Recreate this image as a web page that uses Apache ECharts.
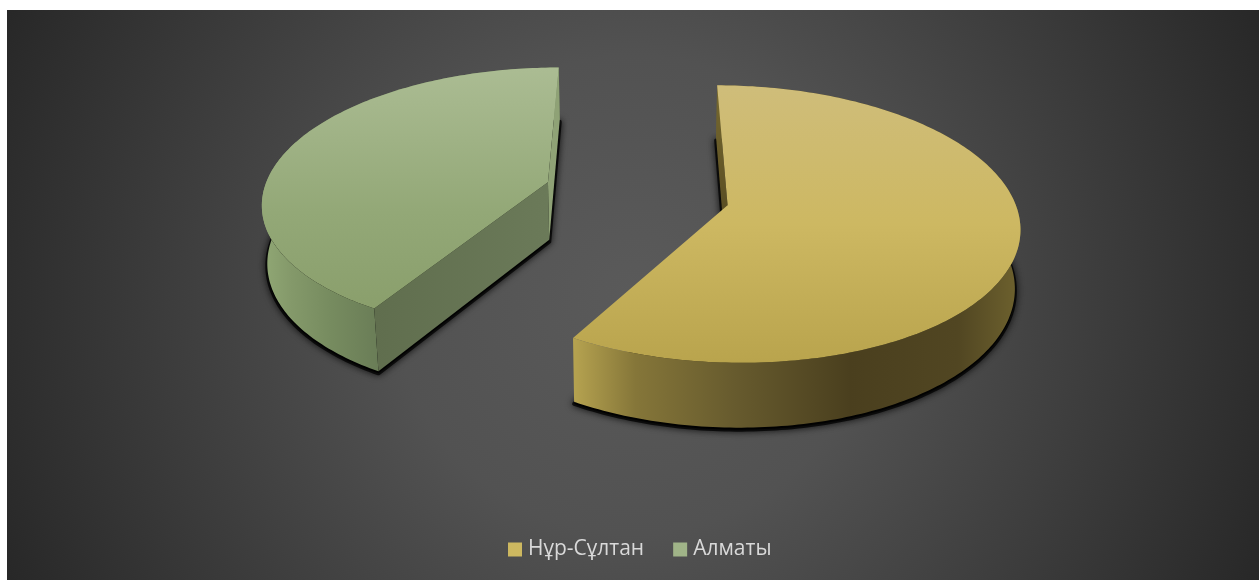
<!DOCTYPE html>
<html>
<head>
<meta charset="utf-8">
<style>
html,body{margin:0;padding:0;background:#fff;overflow:hidden}
#chart{position:absolute;left:7px;top:10px;width:1252px;height:570px}
</style>
<script src="https://cdn.jsdelivr.net/npm/echarts@6/dist/echarts.min.js"></script>
</head>
<body>
<div id="chart"></div>
<script>
// Two-slice exploded pie, drawn in true perspective.
const categories = ['Нұр-Сұлтан', 'Алматы'];
const sliceValues = [58.5, 41.5];

const swatchColors = ['#cdb860', '#a0b488'];
const topStops = [
  [[0, '#cfbd7a'], [0.5, '#cdb862'], [1, '#b9a44d']],
  [[0, '#abbc93'], [0.6, '#93a877'], [1, '#8a9f6c']]
];
const rimStops = [
  [[0, '#b6a350'], [0.14, '#857639'], [0.36, '#675b2e'], [0.62, '#4a3f1e'], [0.86, '#514622'], [0.985, '#6b5f2d'], [1, '#8c7e3c']],
  [[0, '#91a875'], [0.25, '#84996a'], [0.6, '#768b5f'], [1, '#6a7d57']]
];
const cutStops = [
  [[0, '#77692f'], [1, '#4e431f']],
  [[0, '#606e4e'], [1, '#6b7a59']]
];

// Camera: vanishing point, eye height and reference depth, in page pixels.
const cam = { vx: 640, vy: -798, height: 1004, depth: 2124, thick: 74, sink: 31, ox: 7, oy: 10 };
// Pie layout in ground-plane units.
const pie = { r: 288.5, cu: -3.3, cd: 2150.5, explode: 94.3 };

function project(u, d, low) {
  const s = cam.depth / (d + (low ? cam.sink : 0));
  return [
    cam.vx + u * s - cam.ox,
    cam.vy + (cam.height + (low ? cam.thick : 0)) * s - cam.oy
  ];
}

function hGrad(x0, x1, stops) {
  return new echarts.graphic.LinearGradient(x0, 0, x1, 0,
    stops.map(function (p) { return { offset: p[0], color: p[1] }; }), true);
}
function vGrad(y0, y1, stops) {
  return new echarts.graphic.LinearGradient(0, y0, 0, y1,
    stops.map(function (p) { return { offset: p[0], color: p[1] }; }), true);
}
function extent(pts, k) {
  const v = pts.map(function (p) { return p[k]; });
  return [Math.min.apply(null, v), Math.max.apply(null, v)];
}

function renderSlice(params, api) {
  const idx = params.seriesIndex;
  const total = sliceValues.reduce(function (a, b) { return a + b; }, 0);
  let start = 0;
  for (let i = 0; i < idx; i++) start += sliceValues[i] / total * 2 * Math.PI;
  const end = start + api.value(0) / total * 2 * Math.PI;
  const mid = (start + end) / 2;
  const cu = pie.cu + pie.explode * Math.sin(mid);
  const cd = pie.cd + pie.explode * Math.cos(mid);

  const ground = [];
  const steps = Math.ceil((end - start) / (Math.PI / 180));
  for (let i = 0; i <= steps; i++) {
    const a = start + (end - start) * i / steps;
    ground.push([cu + pie.r * Math.sin(a), cd + pie.r * Math.cos(a)]);
  }
  const arcTop = ground.map(function (g) { return project(g[0], g[1], false); });
  const arcLow = ground.map(function (g) { return project(g[0], g[1], true); });
  const apexTop = project(cu, cd, false);
  const apexLow = project(cu, cd, true);

  const children = [];
  // Contact shadow under the base
  children.push({
    type: 'polygon',
    position: [0, 2],
    shape: { points: arcLow.concat([apexLow]) },
    style: { fill: 'rgba(0,0,0,0.85)', stroke: 'rgba(0,0,0,0.75)', lineWidth: 4, lineJoin: 'round', shadowBlur: 7, shadowColor: 'rgba(0,0,0,0.85)' },
    silent: true
  });
  // Outer rim
  const rimPts = arcTop.concat(arcLow.slice().reverse());
  const rimX = extent(rimPts.filter(function (p, i) {
    const g = ground[i < ground.length ? i : 2 * ground.length - 1 - i];
    return Math.cos(Math.atan2(g[0] - cu, g[1] - cd)) < 0.05;
  }), 0);
  children.push({
    type: 'polygon',
    shape: { points: rimPts },
    style: { fill: hGrad(rimX[0], rimX[1], rimStops[idx]) },
    silent: true
  });
  // Cut faces that look toward the camera
  [[start, 1], [end, -1]].forEach(function (edge) {
    const a = edge[0], side = edge[1];
    const nu = -Math.cos(a) * side, nd = Math.sin(a) * side;
    if ((0 - cu) * nu + (0 - cd) * nd <= 0) return;
    const gu = cu + pie.r * Math.sin(a), gd = cd + pie.r * Math.cos(a);
    const pts = [apexTop, project(gu, gd, false), project(gu, gd, true), apexLow];
    const narrow = Math.abs(pts[0][0] - pts[1][0]) < 40;
    let fill;
    if (narrow) {
      fill = idx === 0 ? vGrad(pts[1][1], pts[3][1], cutStops[0]) : '#8fa276';
    } else {
      const xs = extent(pts, 0);
      fill = hGrad(xs[0], xs[1], cutStops[idx]);
    }
    children.push({ type: 'polygon', shape: { points: pts }, style: { fill: fill }, silent: true });
  });
  // Top surface
  const topPts = arcTop.concat([apexTop]);
  const ys = extent(topPts, 1);
  children.push({
    type: 'polygon',
    shape: { points: topPts },
    style: { fill: vGrad(ys[0], ys[1], topStops[idx]) },
    silent: true
  });
  return { type: 'group', children: children };
}

const chart = echarts.init(document.getElementById('chart'), null, { renderer: 'canvas' });
chart.setOption({
  animation: false,
  backgroundColor: new echarts.graphic.RadialGradient(0.5, 0.5, 1.2, [
    { offset: 0, color: '#5a5a5a' },
    { offset: 0.35, color: '#525252' },
    { offset: 1, color: '#282828' }
  ]),
  legend: {
    bottom: 20,
    left: 501,
    padding: 0,
    icon: 'rect',
    itemWidth: 14,
    itemHeight: 14,
    itemGap: 29,
    selectedMode: false,
    data: categories.map(function (name, i) {
      return { name: name, itemStyle: { color: swatchColors[i] } };
    }),
    textStyle: { color: '#d9d9d9', fontSize: 21, fontFamily: 'Open Sans', padding: [0, 0, 0, 1] }
  },
  series: categories.map(function (name, i) {
    return {
      type: 'custom',
      name: name,
      coordinateSystem: 'none',
      itemStyle: { color: swatchColors[i] },
      data: [[sliceValues[i]]],
      renderItem: renderSlice
    };
  })
});
</script>
</body>
</html>
